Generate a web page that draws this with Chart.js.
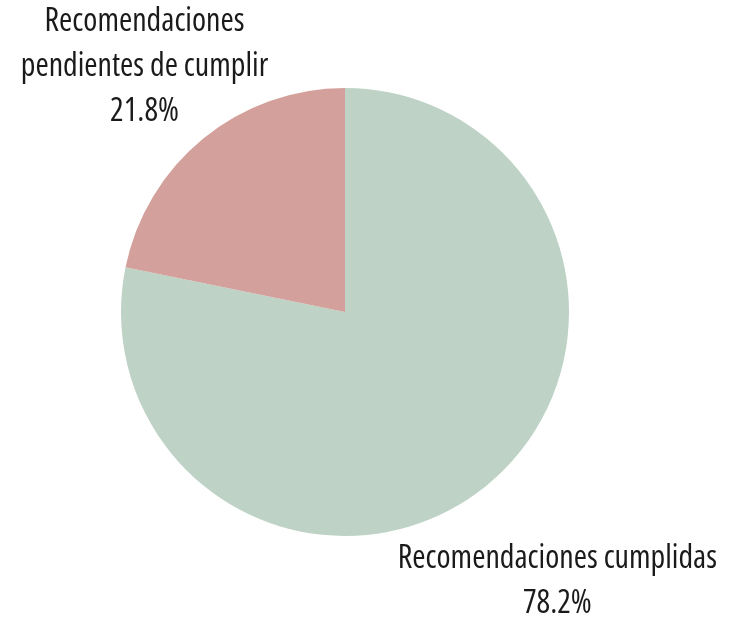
<!DOCTYPE html>
<html>
<head>
<meta charset="utf-8">
<script src="https://cdn.jsdelivr.net/npm/chart.js@4/dist/chart.umd.min.js"></script>
<style>
  html, body { margin: 0; padding: 0; background: #ffffff; }
  #wrap { width: 739px; height: 623px; position: relative; }
</style>
</head>
<body>
<div id="wrap"><canvas id="chart"></canvas></div>
<script>
const categories = ['Recomendaciones cumplidas', 'Recomendaciones pendientes de cumplir']
const values = [78.2, 21.8]
const label_lines = [
    ['Recomendaciones cumplidas'],
    ['Recomendaciones', 'pendientes de cumplir']
]
const slice_colors = ['#bed2c6', '#d3a09b']

const label_font = "condensed 32px 'Open Sans', 'Noto Sans', sans-serif"
const line_height = 45
// distance of each label block's centre from the pie centre, in radii, plus a small x nudge
const label_dist = [1.555, 1.415]
const label_nudge_x = [-8, 0]

const outside_labels = {
    id: 'outside_labels',
    afterDatasetsDraw(chart) {
        const ctx = chart.ctx
        const arcs = chart.getDatasetMeta(0).data
        ctx.save()
        ctx.font = label_font
        ctx.fillStyle = '#1a1a1a'
        ctx.textAlign = 'center'
        ctx.textBaseline = 'middle'
        for (let i = 0; i < arcs.length; i ++) {
            const arc = arcs[i]
            const mid = (arc.startAngle + arc.endAngle) / 2
            const r = arc.outerRadius * label_dist[i]
            const cx = arc.x + Math.cos(mid) * r + label_nudge_x[i]
            const cy = arc.y + Math.sin(mid) * r
            const lines = label_lines[i].concat([values[i].toFixed(1) + '%'])
            const top = cy - (lines.length - 1) * line_height / 2
            for (let j = 0; j < lines.length; j ++) {
                ctx.fillText(lines[j], cx, top + j * line_height)
            }
        }
        ctx.restore()
    }
}

new Chart(document.getElementById('chart'), {
    type: 'pie',
    data: {
        labels: categories,
        datasets: [{
            data: values,
            backgroundColor: slice_colors,
            borderWidth: 0
        }]
    },
    options: {
        responsive: true,
        maintainAspectRatio: false,
        animation: false,
        layout: { padding: { left: 121, right: 170, top: 88, bottom: 87 } },
        plugins: {
            legend: { display: false },
            tooltip: { enabled: false }
        }
    },
    plugins: [outside_labels]
})
</script>
</body>
</html>
